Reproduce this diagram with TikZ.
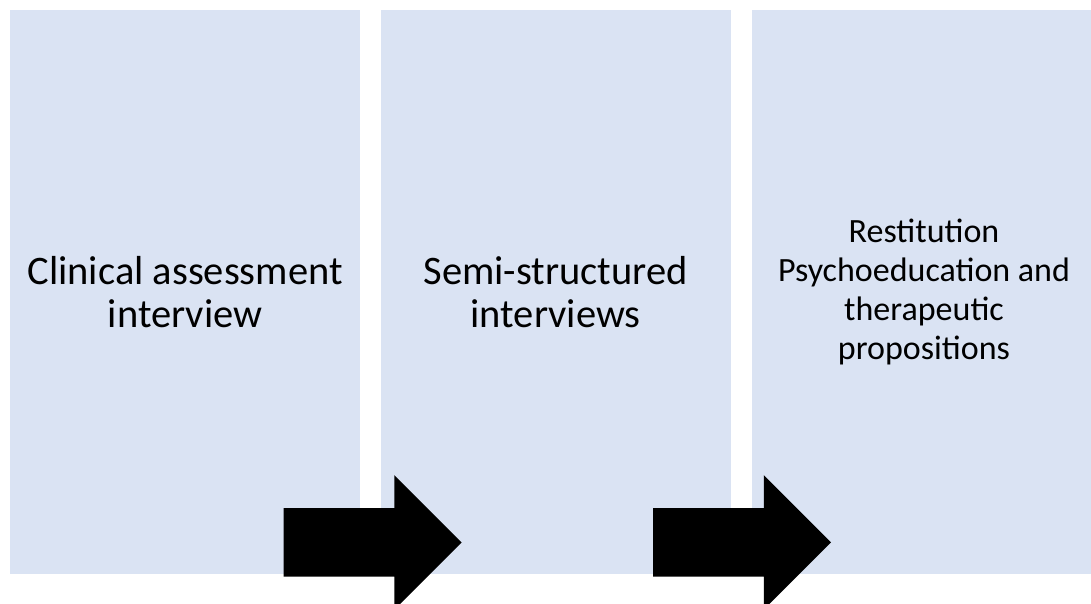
\documentclass[tikz,border=0pt]{standalone}
\usepackage{fontspec}
\setmainfont{Carlito}
\usetikzlibrary{positioning, shapes.arrows}
\definecolor{panelblue}{HTML}{DAE3F3}
\tikzset{
    panel/.style={rectangle, fill=panelblue, inner sep=0pt,
        minimum width=350pt, minimum height=564pt, align=center,
        font=\fontsize{40.5}{43}\selectfont},
    blockarrow/.style={single arrow, fill=black, inner xsep=0pt, inner ysep=34pt,
        minimum height=178pt, minimum width=134pt,
        single arrow head extend=33pt, single arrow tip angle=90}}

\begin{document}
\begin{tikzpicture}
\clip (0,0) rectangle (1091pt,-604pt);
\fill[white] (0,0) rectangle (1091pt,-604pt);

\node[panel, anchor=north west] (p1) at (10pt,-10pt) {Clinical assessment\\interview};
\node[panel, right=20pt of p1]  (p2) {Semi-structured\\interviews};
\node[panel, right=21pt of p2, minimum width=344pt,
      font=\fontsize{34}{39}\selectfont] (p3) {Restitution\\Psychoeducation and\\therapeutic\\propositions};

% arrows between the stages
\node[blockarrow, anchor=tail] (a1) at ([xshift=-77pt, yshift=32pt]p1.south east) {};
\node[blockarrow, anchor=tail] (a2) at ([xshift=-78pt, yshift=32pt]p2.south east) {};
\end{tikzpicture}
\end{document}
